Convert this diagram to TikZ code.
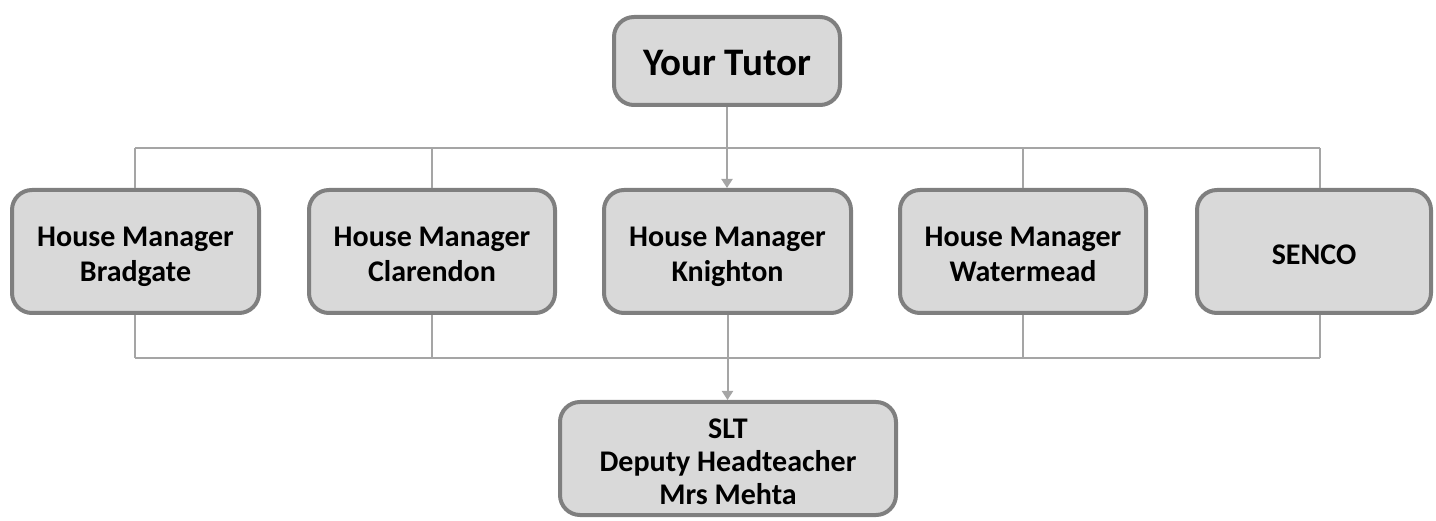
\documentclass[tikz,border=0pt]{standalone}
\usepackage{fontspec}
\setmainfont{Carlito}
\usetikzlibrary{arrows.meta}
\definecolor{boxfill}{HTML}{D9D9D9}
\definecolor{boxline}{HTML}{7F7F7F}
\definecolor{conline}{HTML}{A5A5A5}
\newcommand{\tstrut}{\rule{0pt}{\dimexpr0.7\baselineskip+12pt\relax}}
\tikzset{
  orgbox/.style={draw=boxline, fill=boxfill, line width=4pt, rounded corners=20pt,
    align=center, font=\fontsize{30}{35}\selectfont\bfseries, inner sep=0pt},
  conn/.style={draw=conline, line width=2pt},
  arr/.style={conn, -{Triangle[width=11pt,length=9pt]}}
}
\begin{document}
\begin{tikzpicture}[x=1pt,y=1pt]
\useasboundingbox (0,0) rectangle (1436,520);
\node[orgbox, minimum width=226pt, minimum height=88pt, font=\fontsize{39}{44}\selectfont\bfseries] (tutor) at (727,459) {\tstrut\strut Your Tutor};
\node[orgbox, minimum width=247pt, minimum height=123pt] (brad) at (135.5,268.5) {\tstrut House Manager\\\strut Bradgate};
\node[orgbox, minimum width=246pt, minimum height=123pt] (clar) at (432,268.5) {\tstrut House Manager\\\strut Clarendon};
\node[orgbox, minimum width=247pt, minimum height=123pt] (knig) at (727.5,268.5) {\tstrut House Manager\\\strut Knighton};
\node[orgbox, minimum width=246pt, minimum height=123pt] (water) at (1023,268.5) {\tstrut House Manager\\\strut Watermead};
\node[orgbox, minimum width=234pt, minimum height=123pt] (senco) at (1314,268.5) {\tstrut\strut SENCO};
\node[orgbox, minimum width=336pt, minimum height=113pt, font=\fontsize{30}{33}\selectfont\bfseries] (slt) at (728,61.5) {\tstrut SLT\\\strut Deputy Headteacher\\\strut Mrs Mehta};
% top bus
\coordinate (tl) at (135,372);
\coordinate (tr) at (1320,372);
\draw[conn] (tl) -- (tr);
\draw[conn] (tl) -- (tl |- brad.north);
\draw[conn] (clar.north |- tl) -- (clar.north);
\draw[conn] (water.north |- tl) -- (water.north);
\draw[conn] (tr) -- (tr |- senco.north);
% bottom bus
\coordinate (bl) at (135,162);
\coordinate (br) at (1320,162);
\draw[conn] (bl) -- (br);
\draw[conn] (bl) -- (bl |- brad.south);
\draw[conn] (clar.south |- bl) -- (clar.south);
\draw[conn] (water.south |- bl) -- (water.south);
\draw[conn] (br) -- (br |- senco.south);
% arrows
\draw[arr] (tutor.south) -- (tutor.south |- knig.north);
\draw[arr] (knig.south) -- (knig.south |- slt.north);
\end{tikzpicture}
\end{document}
